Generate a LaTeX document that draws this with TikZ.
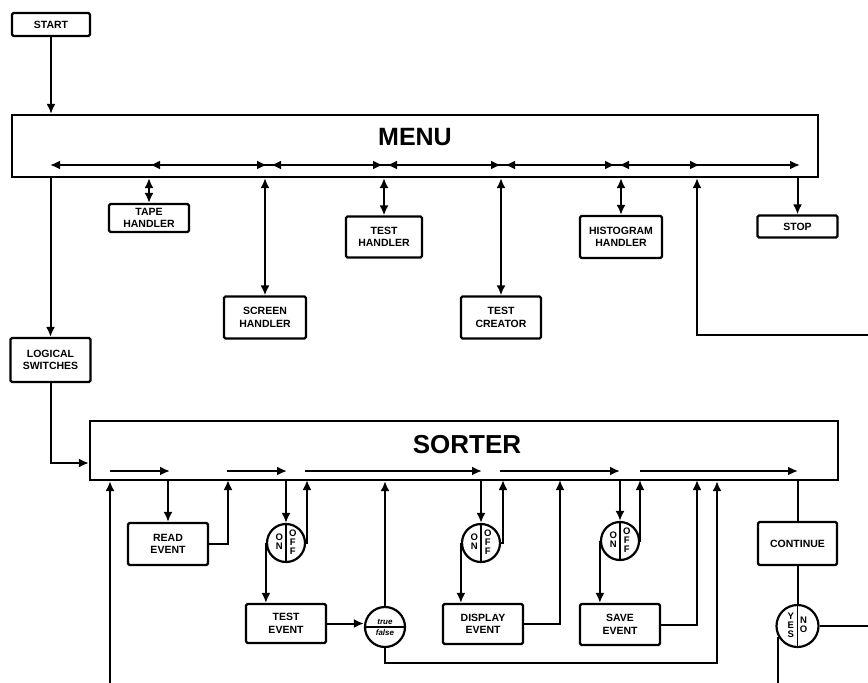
\documentclass[tikz,border=0pt]{standalone}
\usepackage{fontspec}
\setsansfont{Liberation Sans}
\usepackage{tikz}
\usetikzlibrary{arrows.meta,decorations.markings,positioning}
\newcommand{\boxfont}{\sffamily\bfseries\fontsize{10.5}{12.5}\selectfont}
\newcommand{\dialfont}{\sffamily\bfseries\fontsize{9.5}{9.5}\selectfont}
\newcommand{\colstack}[1]{\begin{tabular}[c]{@{}c@{}}#1\end{tabular}}
\newcommand{\onoff}{\colstack{O\\N}\hspace{6pt}\colstack{O\\F\\F}}
\renewcommand{\arraystretch}{0.85}
\tikzstyle{box} = [rectangle, rounded corners=1.5pt, draw=black, line width=2.2pt, align=center, inner sep=1pt, font=\boxfont]
\tikzstyle{panel} = [rectangle, draw=black, line width=2.2pt, inner sep=0pt]
\tikzstyle{dial} = [circle, draw=black, line width=2.2pt, minimum size=38pt, inner sep=0pt, font=\dialfont, path picture={\draw[line width=1.6pt] (path picture bounding box.north) -- (path picture bounding box.south);}]
\tikzstyle{tfdial} = [circle, draw=black, line width=2.2pt, minimum size=40pt, inner sep=0pt, align=center, font=\sffamily\bfseries\itshape\fontsize{8}{8}\selectfont, path picture={\draw[line width=1.6pt] (path picture bounding box.west) -- (path picture bounding box.east);}]
\tikzstyle{arrow} = [line width=2pt,->]
\tikzstyle{dblarrow} = [line width=2pt,<->]
\tikzstyle{link} = [line width=2pt]
\begin{document}
\begin{tikzpicture}[x=1pt, y=-1pt, >={Latex[length=10pt,width=9pt]}]
  \useasboundingbox (0,0) rectangle (868,683);
  \node (start)[box, minimum width=78pt, minimum height=23pt] at (51,24.5) {START};
  \node (menu)[panel, minimum width=806pt, minimum height=62pt] at (415,146) {};
  \node (menutitle) at (415,137) {\sffamily\bfseries\fontsize{25}{25}\selectfont MENU};
  \node (tape)[box, minimum width=80pt, minimum height=28pt] at (149,218) {TAPE\\HANDLER};
  \node (screen)[box, minimum width=82pt, minimum height=42pt] at (265,317.5) {SCREEN\\HANDLER};
  \node (testh)[box, minimum width=76pt, minimum height=41pt] at (384,237) {TEST\\HANDLER};
  \node (creator)[box, minimum width=80pt, minimum height=42pt] at (501,317.5) {TEST\\CREATOR};
  \node (histo)[box, minimum width=82pt, minimum height=42pt] at (621,237) {HISTOGRAM\\HANDLER};
  \node (stop)[box, minimum width=80pt, minimum height=22pt] at (797.5,226.5) {STOP};
  \node (logic)[box, minimum width=80pt, minimum height=44pt] at (50.5,360) {LOGICAL\\SWITCHES};

  \node (sorter)[panel, minimum width=748pt, minimum height=59pt] at (464,450.5) {};
  \node (sortertitle) at (467,445) {\sffamily\bfseries\fontsize{26}{26}\selectfont SORTER};
  \node (read)[box, minimum width=80pt, minimum height=42pt] at (168,544) {READ\\EVENT};
  \node (on1)[dial] at (286,543) {\onoff};
  \node (teste)[box, minimum width=80pt, minimum height=39pt] at (286,623.5) {TEST\\EVENT};
  \node (tf)[tfdial] at (385,627) {true\\[3pt]false};
  \node (on2)[dial] at (481,543) {\onoff};
  \node (disp)[box, minimum width=80pt, minimum height=40pt] at (483,624) {DISPLAY\\EVENT};
  \node (on3)[dial] at (620,541) {\onoff};
  \node (save)[box, minimum width=80pt, minimum height=41pt] at (620,624.5) {SAVE\\EVENT};
  \node (cont)[box, minimum width=79pt, minimum height=43pt] at (797.5,543.5) {CONTINUE};
  \node (yn)[dial, minimum size=42pt] at (797.5,626) {\colstack{Y\\E\\S}\hspace{6pt}\colstack{N\\O}};

  \coordinate (busl) at (50,165);
  \coordinate (busr) at (800,165);
  \coordinate (retin) at (868,335);
  \coordinate (retx) at (697,335);
  \coordinate (feed) at (110,683);
  \coordinate (readback) at (228,480);
  \coordinate (on1back) at (307,480);
  \coordinate (on2back) at (503,480);
  \coordinate (dispback) at (560,480);
  \coordinate (on3back) at (640,480);
  \coordinate (saveback) at (697,480);
  \coordinate (loop) at (717,663);
  \coordinate (ynexit) at (868,626);
  \coordinate (ynout) at (779,683);

  \draw[link, <->, postaction={decorate}, decoration={markings,
      mark=at position 100pt with {\arrowreversed{>}},
      mark=at position 217pt with {\arrow{>}},
      mark=at position 221pt with {\arrowreversed{>}},
      mark=at position 333pt with {\arrow{>}},
      mark=at position 337pt with {\arrowreversed{>}},
      mark=at position 451pt with {\arrow{>}},
      mark=at position 455pt with {\arrowreversed{>}},
      mark=at position 565pt with {\arrow{>}},
      mark=at position 569pt with {\arrowreversed{>}},
      mark=at position 650pt with {\arrow{>}}}] (busl) -- (busr);
  \foreach \a/\b in {110/170, 227/287, 305/482, 500/620, 640/798}
    \draw[arrow] (\a,471) -- (\b,471);

  \draw[arrow] (start) -- (start |- menu.north);
  \draw[dblarrow] (tape |- menu.south) -- (tape);
  \draw[dblarrow] (screen |- menu.south) -- (screen);
  \draw[dblarrow] (testh |- menu.south) -- (testh);
  \draw[dblarrow] (creator |- menu.south) -- (creator);
  \draw[dblarrow] (histo |- menu.south) -- (histo);
  \draw[arrow] (stop |- menu.south) -- (stop);
  \draw[arrow] (retin) -- (retx) -- (retx |- menu.south);
  \draw[arrow] (logic |- menu.south) -- (logic);
  \draw[arrow] (logic) |- ([yshift=-12.5pt]sorter.west);

  \draw[arrow] (feed) -- (feed |- sorter.south);
  \draw[arrow] (read |- sorter.south) -- (read);
  \draw[arrow] (read.east) -| (readback);
  \draw[arrow] (on1 |- sorter.south) -- (on1);
  \draw[arrow] (on1.east) -| (on1back);
  \draw[arrow] (on1.west) -- (on1.west |- teste.north);
  \draw[arrow] (teste.east) -- (teste.east -| tf.west);
  \draw[arrow] (tf) -- (tf |- sorter.south);
  \draw[arrow] (tf) |- (loop) -- (loop |- sorter.south);
  \draw[arrow] (on2 |- sorter.south) -- (on2);
  \draw[arrow] (on2.east) -| (on2back);
  \draw[arrow] (on2.west) -- (on2.west |- disp.north);
  \draw[arrow] (disp.east) -| (dispback);
  \draw[arrow] (on3 |- sorter.south) -- (on3);
  \draw[arrow] (on3.east) -| (on3back);
  \draw[arrow] (on3.west) -- (on3.west |- save.north);
  \draw[arrow] (save.east) -| (saveback);
  \draw[link] (cont |- sorter.south) -- (cont);
  \draw[link] (cont) -- (yn);
  \draw[link] (yn) -- (ynexit);
  \draw[link] (yn.210) -- (yn.210 |- ynout);
\end{tikzpicture}
\end{document}
